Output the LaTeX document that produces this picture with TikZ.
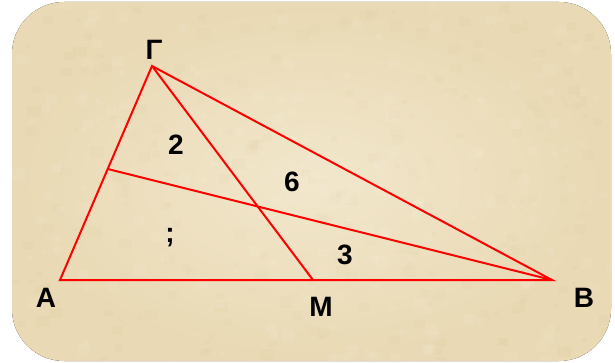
\documentclass[tikz,border=0pt]{standalone}
\usepackage{fontspec}
\setmainfont{Liberation Sans}
\usepackage{tikz}
\usetikzlibrary{positioning, calc}

\definecolor{parchment}{RGB}{233,217,180}
\definecolor{parchlight}{RGB}{242,231,204}
\definecolor{parchdark}{RGB}{210,190,145}

\begin{document}
\begin{tikzpicture}[
    x=1pt, y=-1pt,
    panel/.style={rounded corners=52pt},
    side/.style={draw=red, line width=2pt, line join=miter},
    label/.style={font=\fontsize{28}{33}\selectfont\bfseries, inner sep=0pt, text=black}
]
\useasboundingbox (0,0) rectangle (615,363);
\fill[panel, inner color=parchlight, outer color=parchment] (12,2) rectangle (611,361);

% faint mottled paper look
\begin{scope}
  \clip[panel] (12,2) rectangle (611,361);
  \pgfmathsetseed{17}
  \foreach \i in {1,...,260}{
    \pgfmathsetmacro{\px}{12+599*rnd}
    \pgfmathsetmacro{\py}{2+359*rnd}
    \pgfmathsetmacro{\pr}{4+10*rnd}
    \fill[parchdark, opacity=0.06] (\px,\py) rectangle ++({\pr},{0.8*\pr});
  }
  \foreach \i in {1,...,200}{
    \pgfmathsetmacro{\px}{12+599*rnd}
    \pgfmathsetmacro{\py}{2+359*rnd}
    \pgfmathsetmacro{\pr}{4+9*rnd}
    \fill[white, opacity=0.07] (\px,\py) rectangle ++({\pr},{0.9*\pr});
  }
\end{scope}

\coordinate (A) at (60,280);
\coordinate (B) at (552,280);
\coordinate (G) at (152,66);
\coordinate (M) at (313,280);
\coordinate (D) at (107.7,169);

\draw[side] (A) -- (B) -- (G) -- cycle;
\draw[side] (G) -- (M);
\draw[side] (B) -- (D);

\node[label] (lA) at (46,298) {A};
\node[label] (lB) at (584,298) {B};
\node[label] (lG) at (154,50) {Γ};
\node[label] (lM) at (321,307) {M};

\node[label] (two) at (176,145) {2};
\node[label] (six) at (292,182) {6};
\node[label] (three) at (345,255) {3};
\node[label] (unknown) at (170,238) {;};
\end{tikzpicture}
\end{document}
